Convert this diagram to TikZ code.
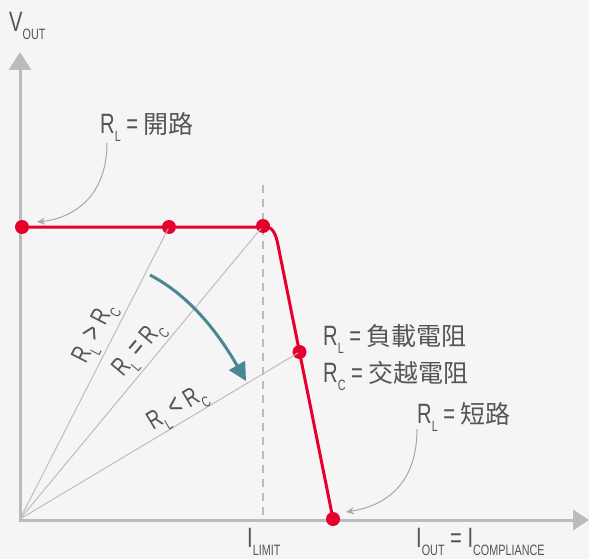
\documentclass[tikz,border=0pt]{standalone}
\usepackage{fontspec}
\setmainfont[FakeStretch=0.72]{Liberation Sans}
\newfontfamily\cjk{Noto Sans CJK TC}
\usetikzlibrary{arrows.meta}
\definecolor{bg}{HTML}{F5F5F5}
\definecolor{axisgray}{HTML}{BBBBBB}
\definecolor{raygray}{HTML}{BDBDBD}
\definecolor{txt}{HTML}{555555}
\definecolor{redc}{HTML}{E8002D}
\definecolor{tealc}{HTML}{4A8790}
\newcommand\lowsub[1]{\raisebox{-8pt}{\fontsize{15}{15}\selectfont #1}}
\newcommand\cj[1]{{\cjk\fontsize{25}{27}\selectfont #1}}
\newcommand\bigrel[1]{{\fontsize{30}{30}\selectfont #1}}
\tikzset{
  lbl/.style={text=txt,font=\fontsize{28}{30}\selectfont,inner sep=0pt},
  rlbl/.style={text=txt,font=\fontsize{26}{28}\selectfont,inner sep=0pt},
  axisline/.style={draw=axisgray,line width=3pt},
  ray/.style={draw=raygray,line width=1pt},
  curve/.style={draw=redc,line width=3pt,line join=round},
  dot/.style={circle,fill=redc,minimum size=14pt,inner sep=0pt},
  leader/.style={draw=axisgray!90!black,line width=1pt,-{Stealth[length=8pt,width=7pt]}},
}
\begin{document}
\begin{tikzpicture}[x=1pt,y=-1pt]
\fill[bg] (0,0) rectangle (589,559);
\useasboundingbox (0,0) rectangle (589,559);
% axes
\coordinate (O) at (20,519);
\coordinate (ytip) at (20,52);
\coordinate (xtip) at (589,520);
\draw[axisline,-{Triangle[length=18pt,width=22pt]}] (20,521) -- (ytip);
\draw[axisline,-{Triangle[length=16pt,width=20pt]}] (18.5,520) -- (xtip);
% dashed limit
\coordinate (dtop) at (263,185);
\coordinate (dbot) at (263,519);
\draw[draw=axisgray,line width=1.5pt,dash pattern=on 8pt off 6pt] (dtop) -- (dbot);
% points
\node[dot] (p1) at (22,227) {};
\node[dot] (p2) at (169,227) {};
\node[dot] (p3) at (263,226) {};
\node[dot] (p4) at (299.5,352) {};
\node[dot] (p5) at (333,519) {};
% rays
\draw[ray] (O) -- (p2.center);
\draw[ray] (O) -- (p3.center);
\draw[ray] (O) -- (p4.center);
% red curve
\draw[curve] (p1.center) -- (p2.center) -- (266,227) .. controls (273,227) and (276,235) .. (278,245) -- (p4.center) -- (p5.center);
% teal arrow
\coordinate (ts) at (150,275);
\coordinate (te) at (246,381);
\draw[draw=tealc,line width=3pt,-{Triangle[length=18pt,width=18pt]}] (ts) .. controls (192,297) and (220,336) .. (te);
% labels
\node[lbl,anchor=base west] (vout) at (9,32) {V\lowsub{OUT}};
\node[lbl,anchor=base west] (open) at (100,134) {R\lowsub{L} = \cj{開路}};
\node[lbl,anchor=base west] (load) at (323,345) {R\lowsub{L} = \cj{負載電阻}};
\node[lbl,anchor=base west] (cross) at (323,382) {R\lowsub{C} = \cj{交越電阻}};
\node[lbl,anchor=base west] (short) at (417,423) {R\lowsub{L} = \cj{短路}};
\node[lbl,anchor=base west] (ilim) at (247,547) {I\lowsub{LIMIT}};
\node[lbl,anchor=base west] (iout) at (416,547) {I\lowsub{OUT} = I\lowsub{COMPLIANCE}};
\node[rlbl,rotate=63] (gt) at (96,334) {R\lowsub{L} \bigrel{>} R\lowsub{C}};
\node[rlbl,rotate=50] (eq) at (140,350) {R\lowsub{L} \bigrel{=} R\lowsub{C}};
\node[rlbl,rotate=31] (lt) at (178,410) {R\lowsub{L} \bigrel{<} R\lowsub{C}};
% leaders
\coordinate (l1s) at (107,143);
\coordinate (l1e) at (37,222);
\draw[leader] (l1s) .. controls (107,195) and (75,218) .. (l1e);
\coordinate (l2s) at (417,429);
\coordinate (l2e) at (346,512);
\draw[leader] (l2s) .. controls (417,480) and (390,505) .. (l2e);
\end{tikzpicture}
\end{document}
